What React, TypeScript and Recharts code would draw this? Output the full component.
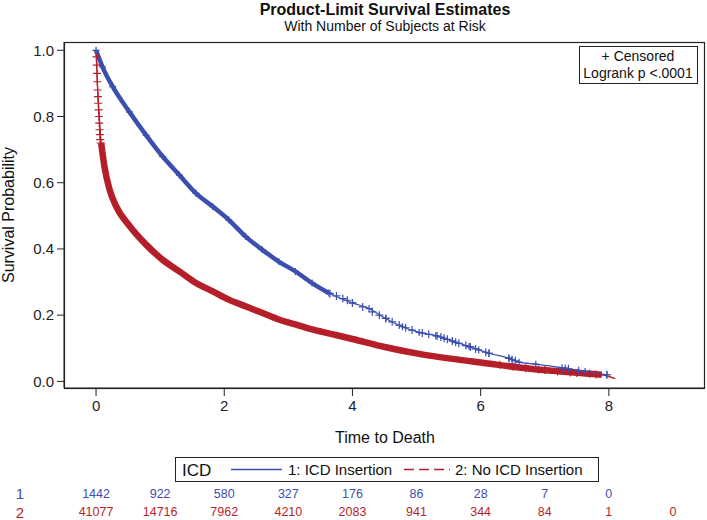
import React from 'react';
import { ComposedChart, Line, Scatter, XAxis, YAxis } from 'recharts';

const FONT = '"Liberation Sans", Arial, Helvetica, sans-serif';
const BLUE = '#3d4fae';
const RED = '#b51f2a';
const INK = '#222222';

// 1: ICD Insertion - survival estimate
const blueTime = [0, 0.1, 0.26, 0.52, 0.78, 1.04, 1.3, 1.56, 1.82, 2.07, 2.33, 2.59, 2.85, 3.11, 3.37, 3.63, 4.0, 4.26, 4.52, 4.78, 5.04, 5.3, 5.56, 5.82, 5.97, 6.13, 6.44, 6.6, 6.86, 7.32, 7.63, 7.97];
const blueSurv = [1.0, 0.95, 0.89, 0.814, 0.744, 0.679, 0.623, 0.568, 0.528, 0.488, 0.438, 0.398, 0.362, 0.332, 0.297, 0.267, 0.237, 0.22, 0.19, 0.165, 0.148, 0.138, 0.122, 0.105, 0.095, 0.085, 0.07, 0.058, 0.052, 0.04, 0.03, 0.02];

// 2: No ICD Insertion
const redTime = [0, 0.02, 0.05, 0.08, 0.13, 0.21, 0.31, 0.52, 0.78, 1.04, 1.3, 1.56, 1.82, 2.07, 2.33, 2.59, 2.85, 3.11, 3.37, 3.63, 4.0, 4.52, 5.04, 5.56, 6.08, 6.6, 7.11, 7.63, 7.89, 8.1];
const redSurv = [1.0, 0.9, 0.8, 0.72, 0.65, 0.58, 0.53, 0.47, 0.413, 0.367, 0.332, 0.297, 0.272, 0.247, 0.227, 0.207, 0.187, 0.172, 0.157, 0.145, 0.128, 0.103, 0.083, 0.068, 0.055, 0.042, 0.032, 0.024, 0.02, 0.008];

// censor marks that stand apart from the dense bands
const blueCensorTime = [3.65, 3.75, 3.85, 3.92, 4.0, 4.16, 4.31, 4.42, 4.52, 4.62, 4.73, 4.83, 4.93, 5.09, 5.19, 5.32, 5.38, 5.43, 5.48, 5.56, 5.61, 5.66, 5.77, 5.84, 5.92, 6.08, 6.13, 6.44, 6.49, 6.54, 7.27, 7.37, 7.53, 7.97];
const blueCensorSurv = [0.265, 0.258, 0.25, 0.245, 0.237, 0.225, 0.21, 0.2, 0.19, 0.18, 0.17, 0.162, 0.155, 0.146, 0.142, 0.137, 0.134, 0.13, 0.127, 0.122, 0.118, 0.115, 0.108, 0.104, 0.098, 0.088, 0.085, 0.07, 0.066, 0.062, 0.04, 0.038, 0.032, 0.02];
const redCensorTime = [0.008, 0.012, 0.016, 0.02, 0.025, 0.03, 0.035, 0.04, 0.045, 0.05, 0.055, 0.06, 0.065, 0.072, 6.3, 6.5, 6.7, 6.9, 7.0, 7.2, 7.4, 7.5, 7.7, 7.8];
const redCensorSurv = [0.98, 0.955, 0.93, 0.905, 0.88, 0.86, 0.84, 0.82, 0.8, 0.78, 0.76, 0.745, 0.73, 0.72, 0.05, 0.045, 0.04, 0.036, 0.034, 0.03, 0.027, 0.025, 0.023, 0.021];

// number of subjects at risk
const riskTimes = [0, 1, 2, 3, 4, 5, 6, 7, 8, 9];
const riskIcd = ['1442', '922', '580', '327', '176', '86', '28', '7', '0', ''];
const riskNoIcd = ['41077', '14716', '7962', '4210', '2083', '941', '344', '84', '1', '0'];

const xTicks = [0, 2, 4, 6, 8];
const yTicks = [0, 0.2, 0.4, 0.6, 0.8, 1.0];
const X_DOMAIN: [number, number] = [-0.5, 9.5];
const Y_DOMAIN: [number, number] = [-0.02, 1.025];

const W = 707;
const H = 520;
const PLOT_LEFT = 64;
const PLOT_TOP = 42;
const PLOT_W = 641;
const PLOT_H = 346;

const toPoints = (ts: number[], ss: number[]) => ts.map((t, i) => ({ t, s: ss[i] }));

const bluePts = toPoints(blueTime, blueSurv);
const redPts = toPoints(redTime, redSurv);
const blueBand = bluePts.filter((p) => p.t <= 3.63);
const redBand = redPts.filter((p) => p.t >= 0.08 && p.t <= 7.89);
const blueCensor = toPoints(blueCensorTime, blueCensorSurv);
const redCensor = toPoints(redCensorTime, redCensorSurv);

const xPix = (t: number) => PLOT_LEFT + ((t - X_DOMAIN[0]) / (X_DOMAIN[1] - X_DOMAIN[0])) * PLOT_W;

const plus = (color: string, r = 4) => (props: any) => {
  const { cx, cy } = props;
  if (cx == null || cy == null) return <g key={props.key} />;
  return (
    <path
      key={props.key}
      d={`M${cx - r},${cy}h${2 * r}M${cx},${cy - r}v${2 * r}`}
      stroke={color}
      strokeWidth={1.2}
      fill="none"
    />
  );
};

const tickStyle = { fill: INK, fontSize: 15, fontFamily: FONT };

export default function App() {
  return (
    <div style={{ position: 'absolute', left: 0, top: 0, width: W, height: H, background: '#fff', fontFamily: FONT }}>
      <ComposedChart width={W} height={H} margin={{ top: PLOT_TOP, right: W - PLOT_LEFT - PLOT_W, left: 0, bottom: 0 }}>
        <XAxis
          type="number"
          dataKey="t"
          domain={X_DOMAIN}
          ticks={xTicks}
          allowDataOverflow
          height={H - PLOT_TOP - PLOT_H}
          tick={tickStyle}
          tickSize={8}
          tickMargin={4}
          stroke={INK}
        />
        <YAxis
          type="number"
          dataKey="s"
          domain={Y_DOMAIN}
          ticks={yTicks}
          allowDataOverflow
          width={PLOT_LEFT}
          tick={tickStyle}
          tickSize={7}
          tickMargin={3}
          tickFormatter={(v: number) => v.toFixed(1)}
          stroke={INK}
        />
        <Line data={redBand} type="monotone" dataKey="s" stroke={RED} strokeWidth={6.5} dot={false} isAnimationActive={false} />
        <Line data={redPts} type="monotone" dataKey="s" stroke={RED} strokeWidth={1.3} dot={false} isAnimationActive={false} />
        <Scatter data={redCensor} dataKey="s" shape={plus(RED)} isAnimationActive={false} />
        <Line data={blueBand} type="monotone" dataKey="s" stroke={BLUE} strokeWidth={4.5} dot={false} isAnimationActive={false} />
        <Line data={bluePts} type="monotone" dataKey="s" stroke={BLUE} strokeWidth={1.2} dot={plus(BLUE, 3.5)} isAnimationActive={false} />
        <Scatter data={blueCensor} dataKey="s" shape={plus(BLUE)} isAnimationActive={false} />
      </ComposedChart>

      <svg width={W} height={H} style={{ position: 'absolute', left: 0, top: 0, pointerEvents: 'none' }} fontFamily={FONT}>
        {/* plot frame */}
        <rect x={PLOT_LEFT + 0.5} y={PLOT_TOP + 0.5} width={PLOT_W - 1} height={PLOT_H} fill="none" stroke={INK} strokeWidth={1.2} />

        <text x={385} y={15} textAnchor="middle" fontSize={16} fontWeight="bold" fill="#111">Product-Limit Survival Estimates</text>
        <text x={385} y={31} textAnchor="middle" fontSize={14} fill="#111">With Number of Subjects at Risk</text>

        <text transform="translate(14,215) rotate(-90)" textAnchor="middle" fontSize={16} fill="#111">Survival Probability</text>
        <text x={385} y={443} textAnchor="middle" fontSize={16} fill="#111">Time to Death</text>

        {/* censor / logrank box */}
        <rect x={579.5} y={46.5} width={118} height={37} fill="#fff" stroke={INK} strokeWidth={1} />
        <text x={638} y={61} textAnchor="middle" fontSize={14} fill="#111">+ Censored</text>
        <text x={638} y={78} textAnchor="middle" fontSize={14} fill="#111">Logrank p &lt;.0001</text>

        {/* group legend */}
        <rect x={175.5} y={457.5} width={423} height={24} fill="#fff" stroke={INK} strokeWidth={1} />
        <text x={182} y={476} fontSize={17} fill="#111">ICD</text>
        <line x1={231} y1={469.5} x2={282} y2={469.5} stroke={BLUE} strokeWidth={1.3} />
        <text x={288} y={475} fontSize={15} fill="#111">1: ICD Insertion</text>
        <line x1={404} y1={469.5} x2={450} y2={469.5} stroke={RED} strokeWidth={1.3} strokeDasharray="10 5" />
        <text x={455} y={475} fontSize={15} fill="#111">2: No ICD Insertion</text>

        {/* at-risk table */}
        <text x={20} y={499} textAnchor="middle" fontSize={15} fill={BLUE}>1</text>
        <text x={20} y={518} textAnchor="middle" fontSize={15} fill={RED}>2</text>
        {riskTimes.map((t, i) => (
          <text key={'a' + t} x={xPix(t)} y={498} textAnchor="middle" fontSize={12.5} fill={BLUE}>{riskIcd[i]}</text>
        ))}
        {riskTimes.map((t, i) => (
          <text key={'b' + t} x={xPix(t)} y={516} textAnchor="middle" fontSize={12.5} fill={RED}>{riskNoIcd[i]}</text>
        ))}
      </svg>
    </div>
  );
}
